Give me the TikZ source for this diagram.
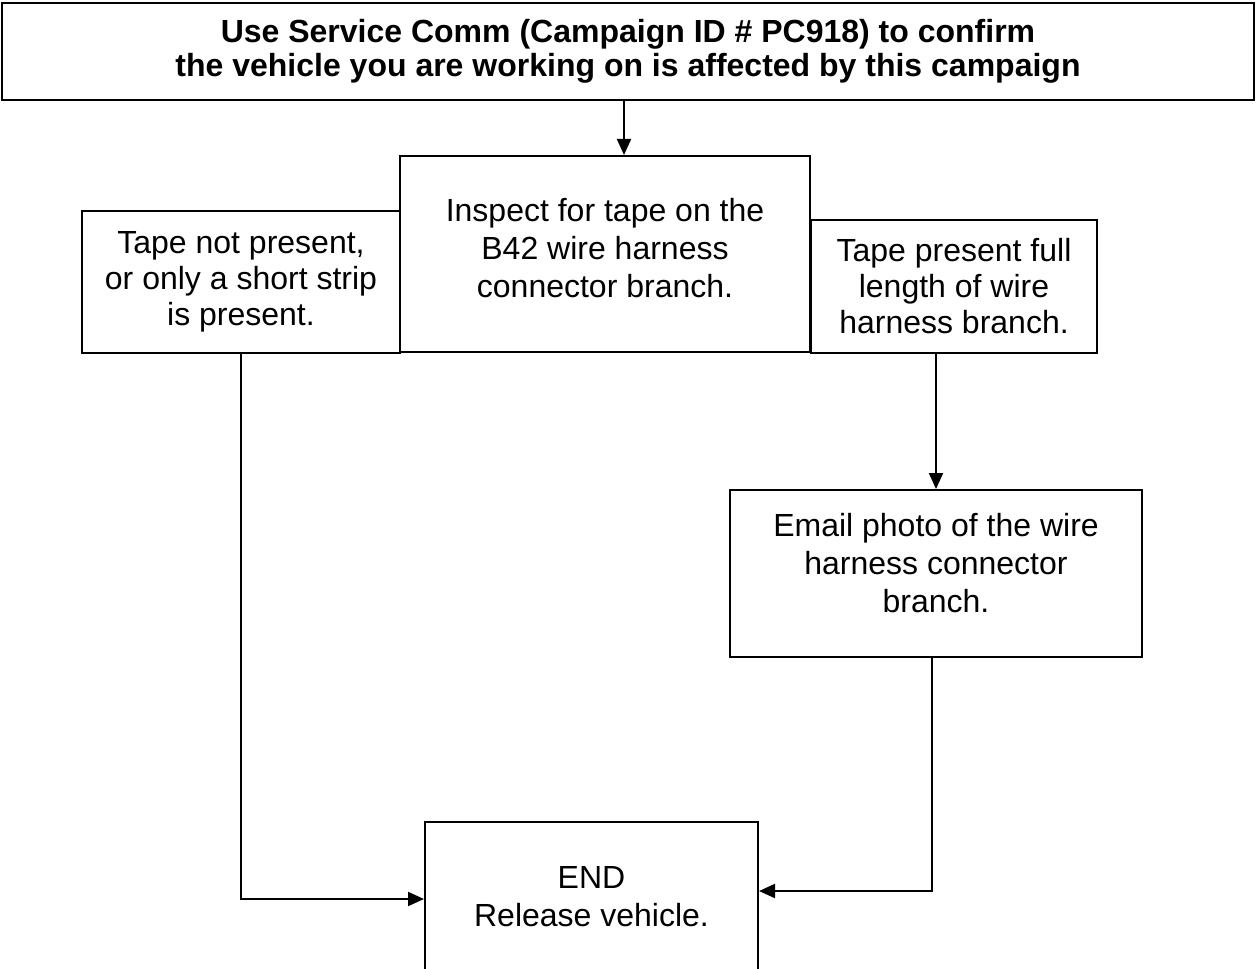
\documentclass[tikz,border=0pt]{standalone}
\usepackage{fontspec}
\setmainfont{Liberation Sans}
\usetikzlibrary{arrows.meta}
\tikzstyle{arrow} = [line width=1pt,->,>={Triangle[length=8pt,width=7pt]}]
\tikzstyle{block} = [rectangle, draw, line width=1pt, text centered, align=center, inner sep=0pt]

\begin{document}
\begin{tikzpicture}[x=0.5pt, y=-0.5pt, font=\fontsize{16}{18}\selectfont]
    \useasboundingbox (0,0) rectangle (1256,968);

    % Nodes
    \node[block, minimum width=626pt, minimum height=48.5pt, font=\fontsize{16}{17}\selectfont\bfseries] (campaign) at (628, 51.5)
        {Use Service Comm (Campaign ID \# PC918) to confirm\\ the vehicle you are working on is affected by this campaign};
    \node[block, minimum width=205pt, minimum height=98pt, font=\fontsize{16}{19}\selectfont, text depth=6pt] (inspect) at (605, 254)
        {Inspect for tape on the\\ B42 wire harness\\ connector branch.};
    \node[block, minimum width=159pt, minimum height=71pt] (notape) at (241, 282)
        {Tape not present,\\ or only a short strip\\ is present.};
    \node[block, minimum width=143pt, minimum height=66.5pt] (tapeok) at (954, 286.5)
        {Tape present full\\ length of wire\\ harness branch.};
    \node[block, minimum width=206pt, minimum height=83.5pt, font=\fontsize{16}{19}\selectfont, text depth=11pt] (email) at (936, 573.5)
        {Email photo of the wire\\ harness connector\\ branch.};
    \node[block, minimum width=166.5pt, minimum height=75pt, font=\fontsize{16}{19}\selectfont] (endbox) at (591.5, 897)
        {END\\ Release vehicle.};

    % Arrows
    \draw[arrow] ([xshift=-2pt]campaign.south) -- ([xshift=-2pt]campaign.south |- inspect.north);
    \draw[arrow] (tapeok.south -| email.north) -- (email.north);
    \draw[arrow] (notape.south) |- ([yshift=-1pt]endbox.west);
    \draw[arrow] ([xshift=-2pt]email.south) |- ([yshift=3pt]endbox.east);

\end{tikzpicture}
\end{document}
